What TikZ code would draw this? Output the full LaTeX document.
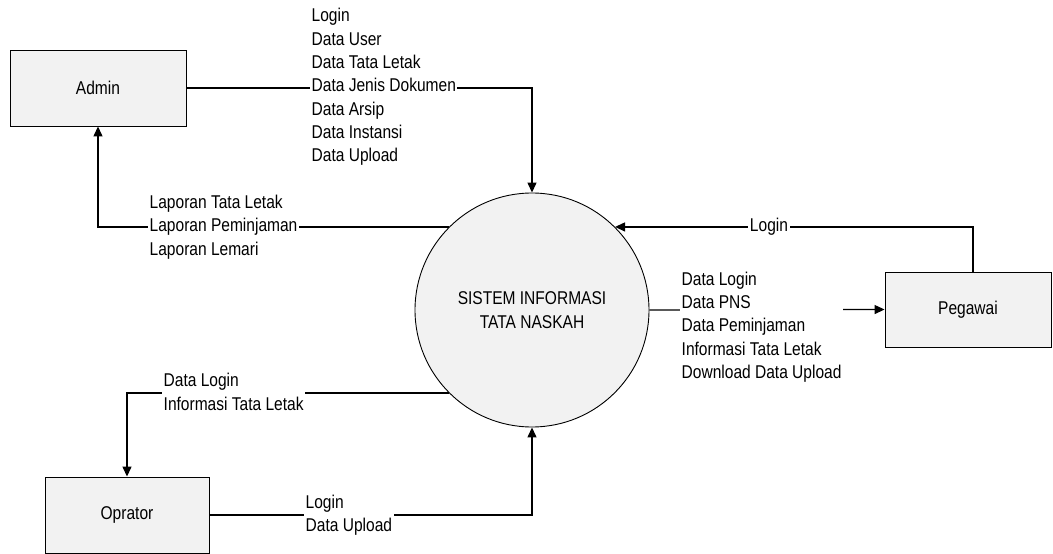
\documentclass[tikz,border=0pt]{standalone}
\usepackage{fontspec}
\setmainfont{Liberation Sans}[FakeStretch=0.84]
\usetikzlibrary{arrows.meta}
\begin{document}
\begin{tikzpicture}[x=1pt,y=-1pt,
  every node/.style={font=\fontsize{18.5}{23.3}\selectfont},
  entity/.style={draw, line width=0.9pt, fill=black!5, minimum width=176pt, minimum height=76pt, inner sep=0pt},
  process/.style={draw, line width=0.9pt, fill=black!5, circle, minimum size=234pt, inner sep=0pt, align=center,
    font=\fontsize{18.5}{24}\selectfont},
  flow/.style={line width=1.3pt, -{Triangle[length=10pt,width=9pt]}},
  flowlabel/.style={fill=white, align=left, inner sep=1.5pt, anchor=west}]
\useasboundingbox (0,0) rectangle (1053,554);

% external entities and the process
\node[entity] (admin) at (98,88) {Admin};
\node[entity, minimum width=166pt, minimum height=75pt] (peg) at (968,309.5) {Pegawai};
\node[entity, minimum width=164pt] (opr) at (127,515) {Oprator};
\node[process] (sis) at (532,310) {SISTEM INFORMASI\\TATA NASKAH};

% data flows
\draw[flow] (admin.east) -| (sis.north);
\draw[flow] (sis.135) -| (admin.south);
\draw[flow] ([xshift=5pt]peg.north) |- (sis.45);
\draw[flow] (sis.east) -- (peg.west);
\draw[flow] (sis.225) -| (opr.north);
\draw[flow] (opr.east) -| (sis.south);

% flow labels
\node[flowlabel] (l1) at (310,87) {Login\\Data User\\Data Tata Letak\\Data Jenis Dokumen\\Data Arsip\\Data Instansi\\Data Upload};
\node[flowlabel] (l2) at (148,227) {Laporan Tata Letak\\Laporan Peminjaman\\Laporan Lemari};
\node[flowlabel, anchor=center] (l3) at (769,227) {Login};
\node[flowlabel] (l4) at (680,327) {Data Login\\Data PNS\\Data Peminjaman\\Informasi Tata Letak\\Download Data Upload};
\node[flowlabel] (l5) at (162,392) {Data Login\\Informasi Tata Letak};
\node[flowlabel] (l6) at (304,515) {Login\\Data Upload};
\end{tikzpicture}
\end{document}
